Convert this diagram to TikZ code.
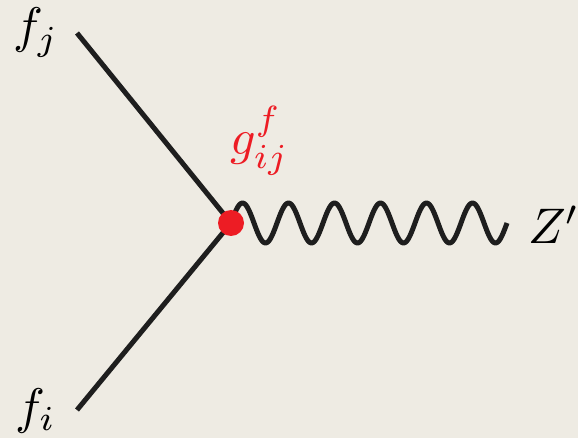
\documentclass[tikz,border=0pt]{standalone}
\definecolor{bg}{HTML}{EEEBE3}
\definecolor{vred}{HTML}{ED1C24}
\definecolor{ink}{HTML}{1E1E1E}
\tikzset{
  leg/.style={draw=ink, line width=5pt, line cap=butt},
  lbl/.style={inner sep=0pt, anchor=base west, scale=5},
}
\begin{document}
\begin{tikzpicture}[x=1pt,y=-1pt]
\fill[bg] (0,0) rectangle (578,438);
\useasboundingbox (0,0) rectangle (578,438);
\coordinate (v) at (231,223);
\coordinate (a) at (77,33);
\coordinate (b) at (77,410);
\draw[leg] (a) -- (v);
\draw[leg] (b) -- (v);
\draw[leg, line join=round] plot[domain=0:276, samples=240, smooth] ({231+\x},{223-20*sin(\x/46*360)});
\fill[vred] (v) circle (13);
\node[lbl] (fj) at (12,43) {$f_j$};
\node[lbl] (fi) at (14,423) {$f_i$};
\node[lbl, text=vred] (g) at (229,155) {$g_{ij}^f$};
\node[lbl] (z) at (527,244) {$Z'$};
\end{tikzpicture}
\end{document}
